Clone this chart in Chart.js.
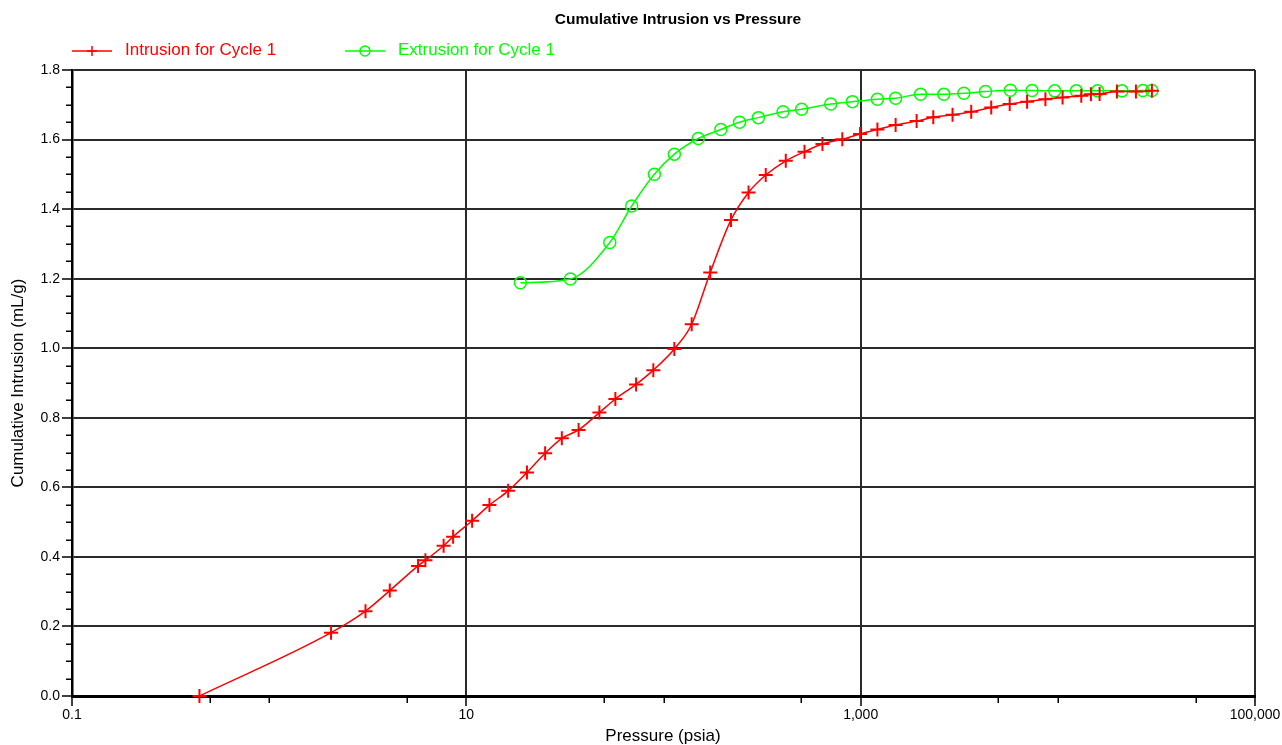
<!DOCTYPE html>
<html>
<head>
<meta charset="utf-8">
<title>Cumulative Intrusion vs Pressure</title>
<script src="https://cdn.jsdelivr.net/npm/chart.js@4.4.1/dist/chart.umd.min.js"></script>
<style>
    html, body { margin: 0; padding: 0; background: #fff; }
    #wrap { width: 1282px; height: 745px; }
</style>
</head>
<body>
<div id="wrap"><canvas id="intrusionChart" width="1282" height="745"></canvas></div>
<script>
// intrusion, cycle 1 (psia / mL/g)
const intrusionPressure = [0.443, 2.06, 3.08, 4.09, 5.69, 6.2, 7.67, 8.57, 10.7, 13.1, 16.3, 20.3, 25.1, 30.5, 37.1, 47.3, 57.0, 72.6, 88.8, 113.5, 139, 172.6, 220, 270, 330, 417, 519, 640, 807, 993, 1216, 1504, 1922, 2335, 2924, 3637, 4594, 5700, 6984, 8650, 10570, 13150, 14720, 16290, 19950, 24890, 30000];
const intrusionVolume = [0, 0.182, 0.244, 0.303, 0.374, 0.390, 0.432, 0.458, 0.504, 0.549, 0.590, 0.643, 0.698, 0.741, 0.765, 0.815, 0.854, 0.896, 0.937, 0.998, 1.069, 1.218, 1.369, 1.448, 1.498, 1.539, 1.565, 1.587, 1.601, 1.616, 1.629, 1.642, 1.653, 1.664, 1.671, 1.680, 1.692, 1.702, 1.709, 1.716, 1.721, 1.726, 1.730, 1.731, 1.738, 1.738, 1.740];

// extrusion, cycle 1
const extrusionPressure = [18.8, 33.7, 53.4, 69.0, 89.9, 113.5, 150, 195.5, 243, 303, 404, 502, 705, 908, 1216, 1504, 2013, 2641, 3336, 4296, 5745, 7396, 9640, 12410, 15910, 21150, 26980, 30000];
const extrusionVolume = [1.188, 1.199, 1.304, 1.409, 1.500, 1.558, 1.603, 1.629, 1.650, 1.663, 1.680, 1.687, 1.702, 1.709, 1.716, 1.719, 1.730, 1.730, 1.733, 1.738, 1.742, 1.741, 1.740, 1.740, 1.740, 1.740, 1.741, 1.741];

const xTickValues = [0.1, 10, 1000, 100000];
const xMinorValues = [0.5, 1, 5, 50, 100, 500, 5000, 10000, 50000];
const yMinorStep = 0.05;

const FONT = '"Liberation Sans", Arial, Helvetica, sans-serif';
Chart.defaults.font.family = FONT;
Chart.defaults.color = '#000';

function toPoints(xs, ys) {
    return xs.map((x, i) => ({ x: x, y: ys[i] }));
}

function formatPressure(v) {
    if (v < 1) return String(v);
    return Number(v).toLocaleString('en-US');
}

// title, legend, axis titles and the small ticks
const decorations = {
    id: 'decorations',
    afterDraw(chart) {
        const { ctx, chartArea, scales } = chart;
        const xs = scales.x, ys = scales.y;
        ctx.save();

        // minor ticks
        ctx.strokeStyle = '#000';
        ctx.lineWidth = 1.5;
        ctx.beginPath();
        xMinorValues.forEach(v => {
            const px = Math.round(xs.getPixelForValue(v)) + 0.25;
            ctx.moveTo(px, chartArea.bottom);
            ctx.lineTo(px, chartArea.bottom + 7);
        });
        for (let v = 0; v <= 1.8 + 1e-9; v += yMinorStep) {
            if (Math.abs(v / 0.2 - Math.round(v / 0.2)) < 1e-6) continue;
            const py = Math.round(ys.getPixelForValue(v)) + 0.25;
            ctx.moveTo(chartArea.left - 6, py);
            ctx.lineTo(chartArea.left, py);
        }
        ctx.stroke();

        // title
        ctx.fillStyle = '#000';
        ctx.textAlign = 'center';
        ctx.textBaseline = 'middle';
        ctx.font = 'bold 15.5px ' + FONT;
        ctx.fillText('Cumulative Intrusion vs Pressure', 678, 20);

        // axis titles
        ctx.font = '17px ' + FONT;
        ctx.fillText('Pressure (psia)', 663, 736);
        ctx.save();
        ctx.translate(18, 383);
        ctx.rotate(-Math.PI / 2);
        ctx.fillText('Cumulative Intrusion (mL/g)', 0, 0);
        ctx.restore();

        // legend
        const items = [
            { ds: chart.data.datasets[0], x: 72 },
            { ds: chart.data.datasets[1], x: 345 }
        ];
        ctx.textAlign = 'left';
        ctx.font = '17px ' + FONT;
        items.forEach(it => {
            const y = 51;
            ctx.strokeStyle = it.ds.borderColor;
            ctx.fillStyle = 'rgba(0,0,0,0)';
            ctx.lineWidth = 1.5;
            ctx.beginPath();
            ctx.moveTo(it.x, y);
            ctx.lineTo(it.x + 40, y);
            ctx.stroke();
            Chart.helpers.drawPoint(ctx, {
                pointStyle: it.ds.pointStyle,
                radius: 5,
                borderWidth: 1.5
            }, it.x + 20, y);
            ctx.fillStyle = it.ds.borderColor;
            ctx.fillText(it.ds.label, it.x + 53, 50);
        });
        ctx.restore();
    }
};

const ctx = document.getElementById('intrusionChart').getContext('2d');

const config = {
    type: 'line',
    data: {
        datasets: [
            {
                label: 'Intrusion for Cycle 1',
                data: toPoints(intrusionPressure, intrusionVolume),
                borderColor: '#ff0000',
                backgroundColor: '#ff0000',
                borderWidth: 1.5,
                pointStyle: 'cross',
                pointRadius: 7,
                pointBorderWidth: 2,
                pointBorderColor: '#ff0000',
                cubicInterpolationMode: 'monotone',
                clip: false
            },
            {
                label: 'Extrusion for Cycle 1',
                data: toPoints(extrusionPressure, extrusionVolume),
                borderColor: '#00ff00',
                backgroundColor: 'rgba(0,0,0,0)',
                borderWidth: 1.5,
                pointStyle: 'circle',
                pointRadius: 6,
                pointBorderWidth: 1.5,
                pointBorderColor: '#00ff00',
                pointBackgroundColor: 'rgba(0,0,0,0)',
                cubicInterpolationMode: 'monotone',
                clip: false
            }
        ]
    },
    options: {
        responsive: false,
        animation: false,
        layout: { padding: { left: 0, top: 70, right: 27, bottom: 0 } },
        plugins: {
            legend: { display: false },
            title: { display: false },
            tooltip: { enabled: false }
        },
        scales: {
            x: {
                type: 'logarithmic',
                min: 0.1,
                max: 100000,
                afterBuildTicks: scale => {
                    scale.ticks = xTickValues.map(v => ({ value: v }));
                },
                afterFit: scale => { scale.height = 49; },
                ticks: {
                    callback: v => formatPressure(v),
                    font: { size: 14 },
                    color: '#000',
                    padding: 1,
                    maxRotation: 0,
                    autoSkip: false
                },
                grid: {
                    color: '#2a2a2a',
                    lineWidth: 2,
                    tickLength: 10,
                    tickColor: '#000',
                    tickWidth: 1.5
                },
                border: { color: '#000', width: 3 }
            },
            y: {
                min: 0,
                max: 1.8,
                afterFit: scale => { scale.width = 72; },
                ticks: {
                    stepSize: 0.2,
                    callback: v => Number(v).toFixed(1),
                    font: { size: 14 },
                    color: '#000',
                    padding: 2
                },
                grid: {
                    color: '#2a2a2a',
                    lineWidth: 2,
                    tickLength: 10,
                    tickColor: '#000',
                    tickWidth: 1.5
                },
                border: { color: '#000', width: 2.5 }
            }
        }
    },
    plugins: [decorations]
};

const intrusionChart = new Chart(ctx, config);
</script>
</body>
</html>
